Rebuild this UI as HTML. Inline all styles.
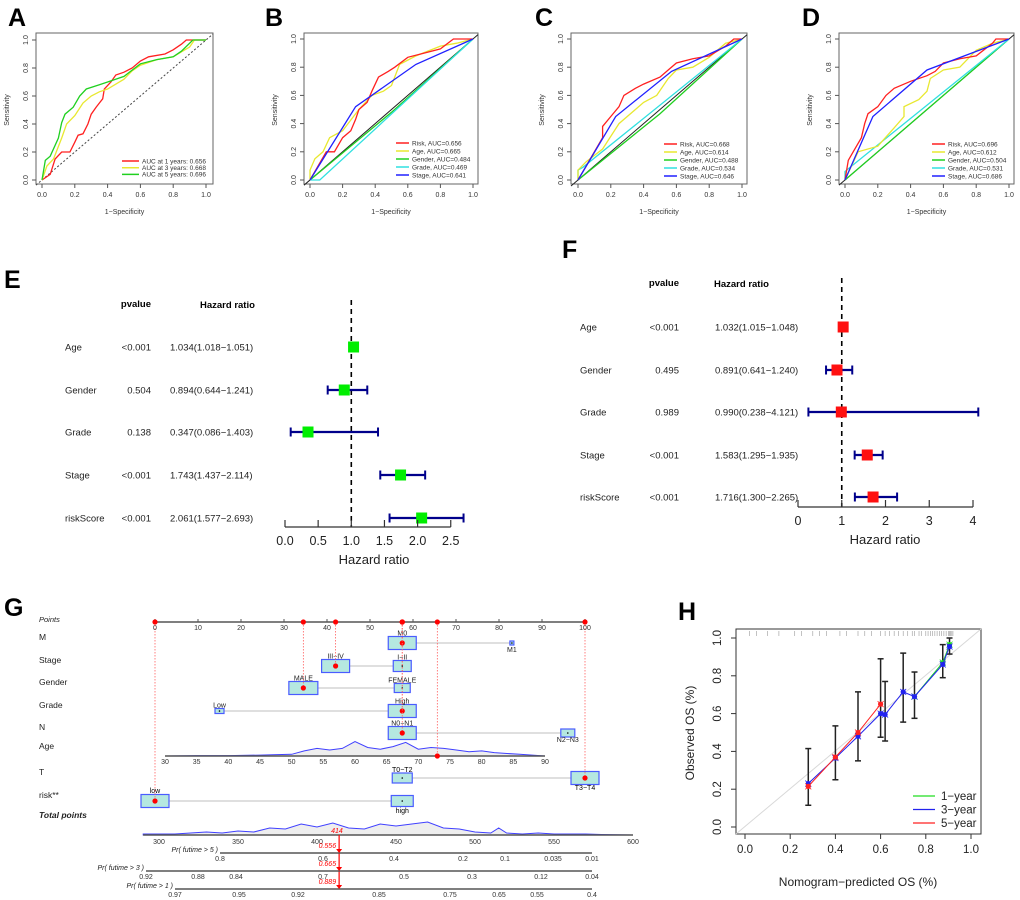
<!DOCTYPE html>
<html><head><meta charset="utf-8"><style>
html,body{margin:0;padding:0;background:#fff}
svg{display:block;font-family:"Liberation Sans",Arial,sans-serif}
</style></head><body>
<svg id="fig" width="1020" height="900" viewBox="0 0 1020 900" xmlns="http://www.w3.org/2000/svg"></svg>
<script>
// ---------- DATA ----------
const rocA_red=[[0,0],[0.05,0.04],[0.08,0.15],[0.12,0.2],[0.17,0.2],[0.2,0.27],[0.22,0.32],[0.25,0.33],[0.28,0.4],[0.3,0.47],[0.33,0.52],[0.35,0.55],[0.37,0.58],[0.38,0.65],[0.42,0.7],[0.45,0.75],[0.5,0.77],[0.55,0.8],[0.6,0.85],[0.65,0.88],[0.75,0.9],[0.8,0.93],[0.85,0.97],[0.88,1],[1,1]];
const rocA_yel=[[0,0],[0.03,0.1],[0.07,0.15],[0.12,0.3],[0.15,0.4],[0.2,0.46],[0.25,0.55],[0.3,0.6],[0.35,0.63],[0.4,0.65],[0.5,0.72],[0.55,0.78],[0.6,0.82],[0.7,0.86],[0.8,0.88],[0.9,0.95],[0.93,1],[1,1]];
const rocA_grn=[[0,0],[0.02,0.14],[0.05,0.17],[0.1,0.3],[0.12,0.41],[0.14,0.47],[0.19,0.52],[0.23,0.6],[0.27,0.65],[0.35,0.68],[0.4,0.7],[0.5,0.74],[0.6,0.83],[0.7,0.86],[0.8,0.88],[0.85,0.92],[0.92,1],[1,1]];
const rocA_labels=["AUC at 1 years: 0.656","AUC at 3 years: 0.668","AUC at 5 years: 0.696"];

const rocB_risk=[[0,0],[0.05,0.1],[0.1,0.2],[0.15,0.2],[0.2,0.3],[0.25,0.35],[0.28,0.43],[0.3,0.5],[0.35,0.55],[0.38,0.63],[0.42,0.73],[0.48,0.77],[0.52,0.8],[0.6,0.87],[0.7,0.9],[0.8,0.93],[0.88,1],[1,1]];
const rocB_age=[[0,0],[0,0.07],[0.03,0.15],[0.08,0.2],[0.12,0.3],[0.2,0.35],[0.3,0.5],[0.38,0.6],[0.45,0.63],[0.5,0.67],[0.55,0.82],[0.65,0.88],[0.8,0.95],[0.9,0.97],[1,1]];
const rocB_gender=[[0,0],[0.5,0.48],[1,1]];
const rocB_grade=[[0,0],[0.06,0],[1,1]];
const rocB_stage=[[0,0],[0.28,0.52],[0.65,0.82],[1,1]];
const rocB_labels=["Risk, AUC=0.656","Age, AUC=0.665","Gender, AUC=0.484","Grade, AUC=0.469","Stage, AUC=0.641"];

const rocC_risk=[[0,0],[0.05,0.1],[0.1,0.2],[0.15,0.3],[0.15,0.38],[0.2,0.45],[0.25,0.52],[0.28,0.6],[0.35,0.65],[0.4,0.68],[0.5,0.73],[0.55,0.78],[0.6,0.83],[0.7,0.86],[0.8,0.88],[0.9,0.95],[0.95,1],[1,1]];
const rocC_age=[[0,0],[0,0.07],[0.05,0.13],[0.15,0.22],[0.25,0.4],[0.35,0.5],[0.4,0.55],[0.48,0.6],[0.55,0.72],[0.6,0.78],[0.7,0.8],[0.8,0.87],[0.9,0.97],[1,1]];
const rocC_gender=[[0,0],[0.5,0.47],[1,1]];
const rocC_grade=[[0,0],[0,0.07],[0.03,0.09],[1,1]];
const rocC_stage=[[0,0],[0.23,0.45],[0.57,0.77],[1,1]];
const rocC_labels=["Risk, AUC=0.668","Age, AUC=0.614","Gender, AUC=0.488","Grade, AUC=0.534","Stage, AUC=0.646"];

const rocD_risk=[[0,0],[0.02,0.14],[0.05,0.2],[0.1,0.3],[0.12,0.4],[0.14,0.47],[0.2,0.52],[0.25,0.6],[0.3,0.65],[0.4,0.7],[0.5,0.74],[0.55,0.77],[0.6,0.83],[0.7,0.86],[0.8,0.88],[0.9,0.97],[0.92,1],[1,1]];
const rocD_age=[[0,0],[0.08,0.2],[0.2,0.24],[0.3,0.37],[0.36,0.45],[0.36,0.52],[0.45,0.57],[0.5,0.63],[0.52,0.72],[0.6,0.78],[0.7,0.8],[0.8,0.92],[0.9,0.97],[1,1]];
const rocD_gender=[[0,0],[1,1]];
const rocD_grade=[[0,0],[0,0.06],[0.02,0.08],[1,1]];
const rocD_stage=[[0,0],[0.17,0.45],[0.5,0.78],[1,1]];
const rocD_labels=["Risk, AUC=0.696","Age, AUC=0.612","Gender, AUC=0.504","Grade, AUC=0.531","Stage, AUC=0.686"];

const forestVars=["Age","Gender","Grade","Stage","riskScore"];
const eP=["<0.001","0.504","0.138","<0.001","<0.001"];
const eHR=[1.034,0.894,0.347,1.743,2.061];
const eLo=[1.018,0.644,0.086,1.437,1.577];
const eHi=[1.051,1.241,1.403,2.114,2.693];
const eTicks=[0,0.5,1,1.5,2,2.5];
const eTickLabels=["0.0","0.5","1.0","1.5","2.0","2.5"];
const fP=["<0.001","0.495","0.989","<0.001","<0.001"];
const fHR=[1.032,0.891,0.990,1.583,1.716];
const fLo=[1.015,0.641,0.238,1.295,1.300];
const fHi=[1.048,1.240,4.121,1.935,2.265];
const fTicks=[0,1,2,3,4];

const nomoVars=["M","Stage","Gender","Grade","N"];
const nomoLevels=[["M0","M1"],["I−II","III−IV"],["FEMALE","MALE"],["High","Low"],["N0−N1","N2−N3"]];
const nomoPts=[[57.5,83],[57.5,42],[57.5,34.5],[57.5,15],[57.5,96]];
const nomoSel=[0,1,1,0,0];
const tLevels=["T0−T2","T3−T4"], tPts=[57.5,100], tSel=1;
const riskLevels=["low","high"], riskPts=[0,57.5], riskSel=0;
const ageTicks=[30,35,40,45,50,55,60,65,70,75,80,85,90];
const ageValue=73;
const ageDensX=[30,35,40,45,47,50,52,54,56,58,60,62,64,66,68,70,72,74,76,78,80,82,84,86,88,90];
const ageDensY=[0,0.5,0.5,1,1.5,2,6,9,7,9,17,10,8,11,16,8,10,9,7,5,6,4,3,2,1,0];
const totTicks=[300,350,400,450,500,550,600];
const totalValue=414;
const totDensX=[290,300,310,320,330,340,350,360,370,380,390,400,410,420,430,440,450,460,470,480,490,500,510,515,520,530,540,550,560,570,580,600];
const totDensY=[1,1,1,2,3,2,4,3,7,6,11,8,12,7,6,11,9,11,13,7,6,3,2,7,2,1,2,1,1,1,0.5,0];
const pr5Ticks=["0.8","0.6","0.4","0.2","0.1","0.035","0.01"], pr5Pos=[220,323,394,463,505,553,592];
const pr3Ticks=["0.92","0.88","0.84","0.7","0.5","0.3","0.12","0.04"], pr3Pos=[146,198,236,323,404,472,541,592];
const pr1Ticks=["0.97","0.95","0.92","0.85","0.75","0.65","0.55","0.4"], pr1Pos=[175,239,298,379,450,499,537,592];
const prVals=["0.556","0.665","0.889"];

const cal1X=[0.75,0.875,0.905], cal1Y=[0.69,0.87,0.965];
const cal3X=[0.28,0.4,0.5,0.6,0.62,0.7,0.75,0.875,0.905], cal3Y=[0.23,0.365,0.48,0.6,0.595,0.715,0.69,0.86,0.955];
const cal5X=[0.28,0.4,0.5,0.6], cal5Y=[0.215,0.37,0.5,0.65];
const errX=[0.28,0.4,0.5,0.6,0.62,0.7,0.75,0.875,0.905];
const errLo=[0.115,0.25,0.35,0.475,0.455,0.555,0.575,0.79,0.915];
const errHi=[0.415,0.535,0.715,0.89,0.77,0.92,0.82,0.965,1.0];
const rugX=[0.02,0.05,0.1,0.15,0.22,0.25,0.3,0.33,0.36,0.42,0.45,0.5,0.53,0.56,0.6,0.62,0.64,0.66,0.68,0.7,0.72,0.74,0.75,0.77,0.78,0.8,0.81,0.82,0.83,0.84,0.85,0.86,0.87,0.88,0.89,0.9,0.905,0.91,0.915,0.92];

// ---------- HELPERS ----------
const NS='http://www.w3.org/2000/svg';
const svg=document.getElementById('fig');
function mk(tag,a,p){const e=document.createElementNS(NS,tag);for(const k in a)e.setAttribute(k,a[k]);(p||svg).appendChild(e);return e;}
function tx(x,y,s,a,p){const e=mk('text',Object.assign({x:x,y:y},a||{}),p);e.textContent=s;return e;}
function grp(name){const g=mk('g',{});return g;}

function panelLetter(ch,x,y){
  const t=tx(x,y,ch,{'font-size':25,'font-weight':'bold','fill':'#000'});
  
  
}

// ---------- ROC ----------
function roc(id,P,curves,cols,labels,leg){
  const g=grp('roc-panel-'+id);
  const sx=v=>P.x0+v*(P.x1-P.x0), sy=v=>P.y0-v*(P.y0-P.y1);
  const r=mk('rect',{x:P.bx0,y:33,width:P.bx1-P.bx0,height:151,fill:'none',stroke:'#666','stroke-width':1},g);
  
  
  const d=mk('line',{x1:P.bx0,y1:sy(-(P.x0-P.bx0)/(P.x1-P.x0)),x2:P.bx1,y2:sy(1+(P.bx1-P.x1)/(P.x1-P.x0)),stroke:P.dash?'#444':'#222','stroke-width':1,'stroke-dasharray':P.dash?'2,2':'none'},g);
  
  
  for(let i=0;i<=5;i++){
    const v=i/5;
    mk('line',{x1:sx(v),y1:184,x2:sx(v),y2:188,stroke:'#555'},g);
    const tl=tx(sx(v),197,v.toFixed(1),{'font-size':7,'text-anchor':'middle',fill:'#333'},g);
    
    
    mk('line',{x1:P.bx0,y1:sy(v),x2:P.bx0-4,y2:sy(v),stroke:'#555'},g);
    const yl=tx(0,0,v.toFixed(1),{'font-size':7,'text-anchor':'middle',fill:'#333',transform:`translate(${P.bx0-8},${sy(v)}) rotate(-90)`},g);
    
    
  }
  const yt=tx(0,0,'Sensitivity',{'font-size':7,'text-anchor':'middle',fill:'#333',transform:`translate(${P.bx0-27},110) rotate(-90)`},g);
  
  
  const xt=tx((P.bx0+P.bx1)/2,214,'1−Specificity',{'font-size':7,'text-anchor':'middle',fill:'#333'},g);
  
  
  curves.forEach((c,i)=>{
    const pl=mk('polyline',{points:c.map(p=>sx(p[0]).toFixed(1)+','+sy(p[1]).toFixed(1)).join(' '),fill:'none',stroke:cols[i],'stroke-width':1.3},g);
    
    
  });
  if(leg){
    labels.forEach((s,i)=>{
      const y=leg.y+i*leg.dy;
      mk('line',{x1:leg.x,y1:y,x2:leg.x+leg.w,y2:y,stroke:cols[i],'stroke-width':1.5},g);
      const lt=tx(leg.x+leg.w+3,y+2.3,s,{'font-size':6.5,fill:'#333'},g);
      
      
    });
  }
}
const C5=['#ff2020','#e8e830','#20d020','#30e0e0','#2020ff'];
const ORD=[C5[2],C5[3],C5[1],C5[0],C5[4]];
panelLetter('A',8,26);
roc('a',{bx0:36,bx1:213,x0:42,x1:206,y0:180,y1:40,dash:true},[rocA_red,rocA_yel,rocA_grn],['#ff2020','#e8e830','#20d020'],rocA_labels,{x:122,y:161,dy:6.7,w:17});
panelLetter('B',265,26);
roc('b',{bx0:304,bx1:478,x0:310,x1:473,y0:180,y1:39},[rocB_gender,rocB_grade,rocB_age,rocB_risk,rocB_stage],ORD,[],null);
panelLetter('C',535,26);
roc('c',{bx0:571,bx1:747,x0:578,x1:742,y0:180,y1:39},[rocC_gender,rocC_grade,rocC_age,rocC_risk,rocC_stage],ORD,[],null);
panelLetter('D',802,26);
roc('d',{bx0:839,bx1:1014,x0:845,x1:1009,y0:180,y1:39},[rocD_gender,rocD_grade,rocD_age,rocD_risk,rocD_stage],ORD,[],null);
function rocLegend(labels,x,y){
  const g=grp('roc-legend');
  labels.forEach((s,i)=>{
    const yy=y+i*8;
    mk('line',{x1:x,y1:yy,x2:x+13,y2:yy,stroke:C5[i],'stroke-width':1.5},g);
    const lt=tx(x+16,yy+2.3,s,{'font-size':6.5,fill:'#333'},g);
    
    
  });
}
rocLegend(rocB_labels,396,143);
rocLegend(rocC_labels,664,144);
rocLegend(rocD_labels,932,144);

// ---------- FOREST ----------
function forest(id,o){
  const g=grp('forest-plot-'+id);
  const sx=v=>o.x0+v*o.k;
  const h1=tx(o.pX,o.hy,'pvalue',{'font-size':9.5,'font-weight':'bold','text-anchor':'end'},g);
  
  
  const h2=tx(o.hrHX,o.hy+1,'Hazard ratio',{'font-size':9.5,'font-weight':'bold'},g);
  
  
  const dl=mk('line',{x1:sx(1),y1:o.dy0,x2:sx(1),y2:o.axY,stroke:'#000','stroke-width':1.6,'stroke-dasharray':'5,4'},g);
  
  
  forestVars.forEach((v,i)=>{
    const y=o.rowY[i];
    const l=tx(o.labX,y+3.5,v,{'font-size':9.5,fill:'#222'},g);
    
    
    const p=tx(o.pX,y+3.5,o.p[i],{'font-size':9.5,'text-anchor':'end',fill:'#222'},g);
    
    
    const h=tx(o.hrX,y+3.5,o.hr[i].toFixed(3)+'('+o.lo[i].toFixed(3)+'−'+o.hi[i].toFixed(3)+')',{'font-size':9.5,fill:'#222'},g);
    
    
    const ci=mk('line',{x1:sx(o.lo[i]),y1:y,x2:sx(o.hi[i]),y2:y,stroke:'#00008b','stroke-width':2.2},g);
    
    
    [o.lo[i],o.hi[i]].forEach(b=>mk('line',{x1:sx(b),y1:y-4.5,x2:sx(b),y2:y+4.5,stroke:'#00008b','stroke-width':2},g));
    const sq=mk('rect',{x:sx(o.hr[i])-5.5,y:y-5.5,width:11,height:11,fill:o.col},g);
    
    
  });
  mk('line',{x1:sx(o.ticks[0]),y1:o.axY,x2:sx(o.ticks[o.ticks.length-1]),y2:o.axY,stroke:'#333','stroke-width':1.2},g);
  o.ticks.forEach((t,i)=>{
    mk('line',{x1:sx(t),y1:o.axY,x2:sx(t),y2:o.axY-7,stroke:'#333','stroke-width':1.2},g);
    const tl=tx(sx(t),o.axY+18,o.tl[i],{'font-size':12.5,'text-anchor':'middle',fill:'#222'},g);
    
    
  });
  const at=tx(o.titX,o.axY+37,'Hazard ratio',{'font-size':13,'text-anchor':'middle',fill:'#222'},g);
  
  
}
panelLetter('E',4,288);
forest('e',{x0:285,k:66.3,labX:65,pX:151,hrX:170,hrHX:200,hy:307,dy0:300,axY:527,rowY:[347,390,432,475,518],p:eP,hr:eHR,lo:eLo,hi:eHi,ticks:eTicks,tl:eTickLabels,col:'#00ee00',titX:374});
panelLetter('F',562,258);
forest('f',{x0:798,k:43.75,labX:580,pX:679,hrX:715,hrHX:714,hy:286,dy0:278,axY:507,rowY:[327,370,412,455,497],p:fP,hr:fHR,lo:fLo,hi:fHi,ticks:fTicks,tl:fTicks.map(String),col:'#ff1010',titX:885});

// ---------- NOMOGRAM ----------
panelLetter('G',4,616);
(function(){
  const g=grp('nomogram');
  const px=p=>155+p*4.3;
  const F={'font-size':8.5,fill:'#222'};
  const pl=tx(39,622,'Points',{'font-size':7.5,'font-style':'italic',fill:'#222'},g);
  
  
  mk('line',{x1:px(0),y1:622,x2:px(100),y2:622,stroke:'#555','stroke-width':1.5},g);
  for(let p=0;p<=100;p+=10){
    mk('line',{x1:px(p),y1:619,x2:px(p),y2:622,stroke:'#555'},g);
    const t=tx(px(p),630,String(p),{'font-size':7,'text-anchor':'middle',fill:'#333'},g);
    
    
  }
  const rowY=[643,666,688,711,733];
  const selPts=[];
  function box(x,y,w,h){const b=mk('rect',{x:x-w/2,y:y-h/2,width:w,height:h,fill:'#b5e8e0',stroke:'#4a5cff','stroke-width':1.2},g);mk('circle',{cx:x,cy:y,r:0.8,fill:'#000'},g);}
  const bw=[[28,4],[18,28],[16,29],[28,9],[28,14]], bh=[[13,4],[11,13],[9,13],[13,5],[13,8]];
  nomoVars.forEach((v,i)=>{
    const y=rowY[i];
    const l=tx(39,y-3,v,F,g);
    
    
    mk('line',{x1:px(nomoPts[i][0]),y1:y,x2:px(nomoPts[i][1]),y2:y,stroke:'#ccc','stroke-width':1.2},g);
    nomoLevels[i].forEach((lv,j)=>{
      const x=px(nomoPts[i][j]);
      box(x,y,bw[i][j],bh[i][j]);
      const below=(j===1&&(i===0||i===4));
      const lt=tx(x,below?y+9:y-bh[i][j]/2-1,lv,{'font-size':7,'text-anchor':'middle',fill:'#222'},g);
      
      
    });
    selPts.push([px(nomoPts[i][nomoSel[i]]),y]);
  });
  const ay=756, ax=a=>165+(a-30)*(380/60);
  const al=tx(39,ay-7,'Age',F,g);
  
  
  let d='M'+ax(ageDensX[0])+','+ay;
  ageDensX.forEach((a,i)=>{d+=' L'+ax(a).toFixed(1)+','+(ay-ageDensY[i]*0.85).toFixed(1);});
  d+=' L'+ax(90)+','+ay+' Z';
  const ad=mk('path',{d:d,fill:'#eeeeee',stroke:'#4040ff','stroke-width':1},g);
  
  
  mk('line',{x1:ax(30),y1:ay,x2:ax(90),y2:ay,stroke:'#555','stroke-width':1.5},g);
  ageTicks.forEach(a=>{
    const t=tx(ax(a),ay+8,String(a),{'font-size':7,'text-anchor':'middle',fill:'#333'},g);
    
    
  });
  selPts.push([ax(ageValue),ay]);
  const ty=778;
  const tl=tx(39,ty-3,'T',F,g);
  
  
  mk('line',{x1:px(tPts[0]),y1:ty,x2:px(tPts[1]),y2:ty,stroke:'#ccc','stroke-width':1.2},g);
  box(px(tPts[0]),ty,20,10); box(px(tPts[1]),ty,28,13);
  tx(px(tPts[0]),ty-6,tLevels[0],{'font-size':7,'text-anchor':'middle'},g);
  tx(px(tPts[1]),ty+12,tLevels[1],{'font-size':7,'text-anchor':'middle'},g);
  selPts.push([px(tPts[tSel]),ty]);
  const ry=801;
  const rl=tx(39,ry-3,'risk**',F,g);
  
  
  mk('line',{x1:px(riskPts[0]),y1:ry,x2:px(riskPts[1]),y2:ry,stroke:'#ccc','stroke-width':1.2},g);
  box(px(riskPts[0]),ry,28,13); box(px(riskPts[1]),ry,22,11);
  tx(px(riskPts[0]),ry-8,riskLevels[0],{'font-size':7,'text-anchor':'middle'},g);
  tx(px(riskPts[1]),ry+12,riskLevels[1],{'font-size':7,'text-anchor':'middle'},g);
  selPts.push([px(riskPts[riskSel]),ry]);
  selPts.forEach(p=>{
    mk('line',{x1:p[0],y1:622,x2:p[0],y2:p[1],stroke:'#ff6060','stroke-width':0.8,'stroke-dasharray':'1.5,1.5'},g);
    const c1=mk('circle',{cx:p[0],cy:622,r:2.6,fill:'#ff0000'},g);
    
    
    const c2=mk('circle',{cx:p[0],cy:p[1],r:2.6,fill:'#ff0000'},g);
    
    
  });
  const tp=tx(39,818,'Total points',{'font-size':8.5,'font-style':'italic','font-weight':'bold',fill:'#222'},g);
  
  
  const ty2=835, tx2=v=>159+(v-300)*(474/300);
  let d2='M'+tx2(totDensX[0])+','+ty2;
  totDensX.forEach((v,i)=>{d2+=' L'+tx2(v).toFixed(1)+','+(ty2-totDensY[i]).toFixed(1);});
  d2+=' Z';
  const td=mk('path',{d:d2,fill:'#eeeeee',stroke:'#4040ff','stroke-width':1},g);
  
  
  mk('line',{x1:tx2(290),y1:ty2,x2:tx2(600),y2:ty2,stroke:'#555','stroke-width':1.5},g);
  totTicks.forEach(v=>{
    const t=tx(tx2(v),ty2+9,String(v),{'font-size':7,'text-anchor':'middle',fill:'#333'},g);
    
    
  });
  const ax0=tx2(totalValue);
  tx(ax0-8,ty2-2,String(totalValue),{'font-size':7,'font-style':'italic',fill:'#ff0000'},g);
  mk('line',{x1:ax0,y1:ty2,x2:ax0,y2:886,stroke:'#ff0000','stroke-width':1.2},g);
  const probs=[[853,'Pr( futime > 5 )',pr5Ticks,pr5Pos],[871,'Pr( futime > 3 )',pr3Ticks,pr3Pos],[889,'Pr( futime > 1 )',pr1Ticks,pr1Pos]];
  probs.forEach((r,i)=>{
    const y=r[0];
    const lab=tx(r[3][0]-2,y-1,r[1],{'font-size':7,'font-style':'italic','text-anchor':'end',fill:'#222'},g);
    
    
    mk('line',{x1:r[3][0],y1:y,x2:r[3][r[3].length-1],y2:y,stroke:'#555','stroke-width':1.5},g);
    r[2].forEach((s,j)=>{
      const t=tx(r[3][j],y+8,s,{'font-size':7,'text-anchor':'middle',fill:'#333'},g);
      
      
    });
    const v=tx(ax0-3,y-5,prVals[i],{'font-size':7,'font-style':'italic','text-anchor':'end',fill:'#ff0000'},g);
    
    
    mk('path',{d:`M${ax0-3},${y-4} L${ax0+3},${y-4} L${ax0},${y} Z`,fill:'#ff0000'},g);
  });
})();

// ---------- CALIBRATION ----------
panelLetter('H',678,620);
(function(){
  const g=grp('calibration-plot');
  const sx=v=>745+v*226, sy=v=>827-v*189;
  const r=mk('rect',{x:736,y:629,width:245,height:205,fill:'none',stroke:'#333','stroke-width':1},g);
  
  
  mk('line',{x1:736,y1:834,x2:981,y2:629,stroke:'#d8d8d8','stroke-width':1},g);
  rugX.forEach(v=>{
    const rl=mk('line',{x1:sx(v),y1:631,x2:sx(v),y2:636,stroke:'#999','stroke-width':0.6},g);
    
    
  });
  for(let i=0;i<=5;i++){
    const v=i/5;
    mk('line',{x1:sx(v),y1:834,x2:sx(v),y2:839,stroke:'#333'},g);
    const t=tx(sx(v),853,v.toFixed(1),{'font-size':11.5,'text-anchor':'middle',fill:'#222'},g);
    
    
    mk('line',{x1:736,y1:sy(v),x2:731,y2:sy(v),stroke:'#333'},g);
    const yl=tx(0,0,v.toFixed(1),{'font-size':11.5,'text-anchor':'middle',fill:'#222',transform:`translate(${721},${sy(v)}) rotate(-90)`},g);
    
    
  }
  const yt=tx(0,0,'Observed OS (%)',{'font-size':12,'text-anchor':'middle',fill:'#222',transform:'translate(694,733) rotate(-90)'},g);
  
  
  const xt=tx(858,886,'Nomogram−predicted OS (%)',{'font-size':12,'text-anchor':'middle',fill:'#222'},g);
  
  
  errX.forEach((v,i)=>{
    const e=mk('line',{x1:sx(v),y1:sy(errLo[i]),x2:sx(v),y2:sy(errHi[i]),stroke:'#222','stroke-width':1.5},g);
    
    
    mk('line',{x1:sx(v)-3,y1:sy(errLo[i]),x2:sx(v)+3,y2:sy(errLo[i]),stroke:'#222','stroke-width':1.5},g);
    mk('line',{x1:sx(v)-3,y1:sy(errHi[i]),x2:sx(v)+3,y2:sy(errHi[i]),stroke:'#222','stroke-width':1.5},g);
  });
  [[cal1X,cal1Y,'#22dd22','1-year'],[cal3X,cal3Y,'#2222ee','3-year'],[cal5X,cal5Y,'#ff2222','5-year']].forEach(s=>{
    const pl=mk('polyline',{points:s[0].map((v,i)=>sx(v)+','+sy(s[1][i])).join(' '),fill:'none',stroke:s[2],'stroke-width':1},g);
    
    
    s[0].forEach((v,i)=>{
      const c=mk('circle',{cx:sx(v),cy:sy(s[1][i]),r:2.6,fill:s[2]},g);
      
      
      mk('path',{d:`M${sx(v)-3},${sy(s[1][i])-3} l6,6 m0,-6 l-6,6`,stroke:s[2],'stroke-width':0.8},g);
    });
  });
  ['#22dd22','#2222ee','#ff2222'].forEach((c,i)=>{
    const y=796+i*13.5;
    mk('line',{x1:913,y1:y,x2:935,y2:y,stroke:c,'stroke-width':1.3},g);
    const t=tx(941,y+4,['1−year','3−year','5−year'][i],{'font-size':11.5,fill:'#222'},g);
    
    
  });
})();
</script>
</body></html>
